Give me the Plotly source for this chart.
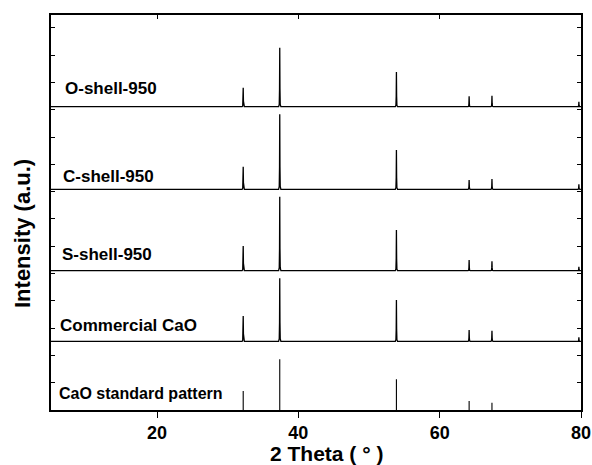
import plotly.graph_objects as go

# Peak positions (2 theta, degrees)
peak_pos = [32.2, 37.37, 53.88, 64.17, 67.4, 79.7]

# Sample names (top to bottom) and read values
names = ["O-shell-950", "C-shell-950", "S-shell-950", "Commercial CaO", "CaO standard pattern"]
offsets = [303.3, 220.7, 139.3, 68.7, 0.0]
heights_o = [19, 59, 34.7, 10.4, 11, 5]
heights_c = [22.6, 75, 39.3, 9.3, 10.3, 5]
heights_s = [24.7, 74, 40.7, 10.7, 9.4, 4]
heights_com = [25.3, 63, 41.3, 11.3, 10.6, 4]
heights_std = [19, 50.7, 30.7, 9, 7.3, 0]
heights = [heights_o, heights_c, heights_s, heights_com, heights_std]

label_x = [6.66, 6.42, 6.28, 5.95, 5.81]
label_y = [322, 234, 155.7, 85, 17]

x_min, x_max = 5, 80
x_ticks = [20, 40, 60, 80]

fig = go.Figure()

hw = 0.16
for i, (nm, off, hs) in enumerate(zip(names, offsets, heights)):
    if i < 4:
        xs, ys = [x_min], [off]
        for p, h in zip(peak_pos, hs):
            xs += [p - hw, p - 0.07, p - 0.03, p, p + 0.03, p + 0.07, p + hw]
            ys += [off, off + h * 0.04, off + h * 0.3, off + h, off + h * 0.3, off + h * 0.04, off]
        xs.append(x_max)
        ys.append(off)
        fig.add_trace(go.Scatter(x=xs, y=ys, mode="lines",
                                 line=dict(color="black", width=1.3),
                                 showlegend=False, hoverinfo="skip"))
    else:
        sx, sy = [], []
        for p, h in zip(peak_pos, hs):
            if h > 0:
                sx += [p, p, None]
                sy += [off, off + h, None]
        fig.add_trace(go.Scatter(x=sx, y=sy, mode="lines",
                                 line=dict(color="black", width=1.1),
                                 showlegend=False, hoverinfo="skip"))
    fig.add_annotation(x=label_x[i], y=label_y[i], xref="x", yref="y",
                       text="<b>%s</b>" % nm, showarrow=False,
                       xanchor="left", yanchor="middle",
                       font=dict(family="Liberation Sans, Arial", size=16 if i == 4 else 17, color="black"))

# invisible trace for top axis
fig.add_trace(go.Scatter(x=[x_min, x_max], y=[None, None], xaxis="x2", mode="lines",
                         showlegend=False, hoverinfo="skip"))

fig.update_layout(
    width=592, height=465,
    margin=dict(l=51, r=11, t=15, b=55, autoexpand=False),
    paper_bgcolor="white", plot_bgcolor="white",
    font=dict(family="Liberation Sans, Arial", color="black"),
    xaxis=dict(range=[x_min, x_max], tickvals=x_ticks, ticktext=["<b>%d</b>" % v for v in x_ticks],
               ticks="outside", ticklen=6, tickwidth=1.3, tickcolor="black",
               showline=True, linecolor="black", linewidth=1.5, mirror=False,
               showgrid=False, zeroline=False, automargin=False,
               tickfont=dict(size=18, family="Liberation Sans, Arial", color="black")),
    xaxis2=dict(range=[x_min, x_max], overlaying="x", side="top", tickvals=x_ticks,
                ticks="inside", ticklen=4, tickwidth=1, tickcolor="black",
                showticklabels=False, showline=True, linecolor="black", linewidth=1.5,
                showgrid=False, zeroline=False, automargin=False),
    yaxis=dict(range=[0, 395], tickvals=[i * 27.3 for i in range(1, 15)],
               ticks="inside", ticklen=4, tickwidth=1, tickcolor="black",
               showticklabels=False, showline=True, linecolor="black", linewidth=1.5,
               mirror="ticks", showgrid=False, zeroline=False, automargin=False),
)

fig.add_annotation(x=-0.0548, y=0.448, xref="paper", yref="paper",
                   text="<b>Intensity (a.u.)</b>", textangle=-90, showarrow=False,
                   xanchor="center", yanchor="middle",
                   font=dict(family="Liberation Sans, Arial", size=22, color="black"))
fig.add_annotation(x=0.519, y=-0.11, xref="paper", yref="paper",
                   text="<b>2 Theta ( ° )</b>", showarrow=False,
                   xanchor="center", yanchor="middle",
                   font=dict(family="Liberation Sans, Arial", size=21, color="black"))

fig.write_html("out.html", config={"displayModeBar": False},
               post_script="document.body.style.margin='0';document.body.style.overflow='hidden';")
